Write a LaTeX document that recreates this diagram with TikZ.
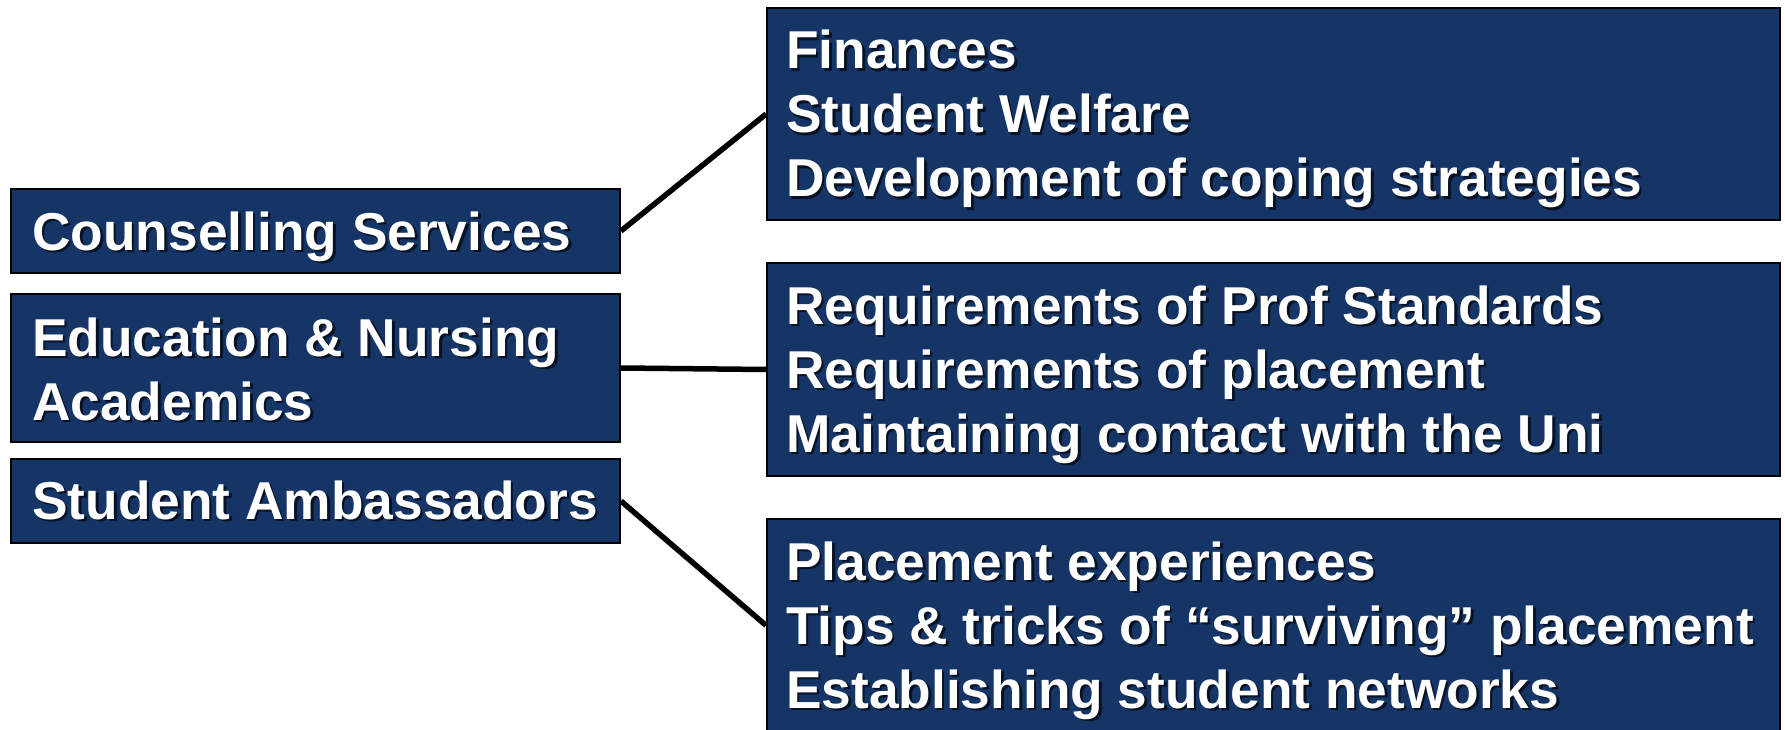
\documentclass[tikz,border=0pt]{standalone}
\usepackage{fontspec}
\setmainfont{Liberation Sans}
\definecolor{navy}{RGB}{20,53,102}
\definecolor{shadowc}{RGB}{8,18,36}
\newcommand\shd[1]{\leavevmode\rlap{\hspace{2.5pt}\raisebox{-2.5pt}{\color{shadowc}#1}}#1}
\begin{document}
\begin{tikzpicture}[x=1pt,y=-1pt,
  box/.style={draw=black,line width=1.8pt,fill=navy,rectangle,inner sep=0pt,minimum width=#1},
  lbl/.style={anchor=base west,inner sep=0pt,text=white,font=\fontsize{53.3}{64}\selectfont\bfseries},
  conn/.style={draw=black,line width=5.5pt}]
\useasboundingbox (0,0) rectangle (1785,730);
% left boxes
\node[box=609pt,minimum height=84pt] (cs) at (315.5,231) {};
\node[box=609pt,minimum height=148pt] (en) at (315.5,368) {};
\node[box=609pt,minimum height=84pt] (sa) at (315.5,501) {};
% right boxes
\node[box=1013pt,minimum height=212pt] (r1) at (1273.5,114) {};
\node[box=1013pt,minimum height=213pt] (r2) at (1273.5,369.5) {};
\node[box=1013pt,minimum height=213pt] (r3) at (1273.5,625.5) {};
% connectors
\draw[conn] (cs.east) -- (r1.west);
\draw[conn] (en.east) -- (r2.west);
\draw[conn] (sa.east) -- (r3.west);
% texts
\node[lbl] (cst) at (32,250) {\shd{Counselling Services}};
\node[lbl] (ent) at (32,356) {\begin{tabular}[t]{@{}l@{}}\shd{Education \& Nursing}\\\shd{Academics}\end{tabular}};
\node[lbl] (sat) at (32,519) {\shd{Student Ambassadors}};
\node[lbl] (r1t) at (786,69) {\begin{tabular}[t]{@{}l@{}}\shd{Finances}\\\shd{Student Welfare}\\\shd{Development of coping strategies}\end{tabular}};
\node[lbl] (r2t) at (786,324) {\begin{tabular}[t]{@{}l@{}}\shd{Requirements of Prof Standards}\\\shd{Requirements of placement}\\\shd{Maintaining contact with the Uni}\end{tabular}};
\node[lbl] (r3t) at (786,580) {\begin{tabular}[t]{@{}l@{}}\shd{Placement experiences}\\\shd{Tips \& tricks of “surviving” placement}\\\shd{Establishing student networks}\end{tabular}};
\end{tikzpicture}
\end{document}
